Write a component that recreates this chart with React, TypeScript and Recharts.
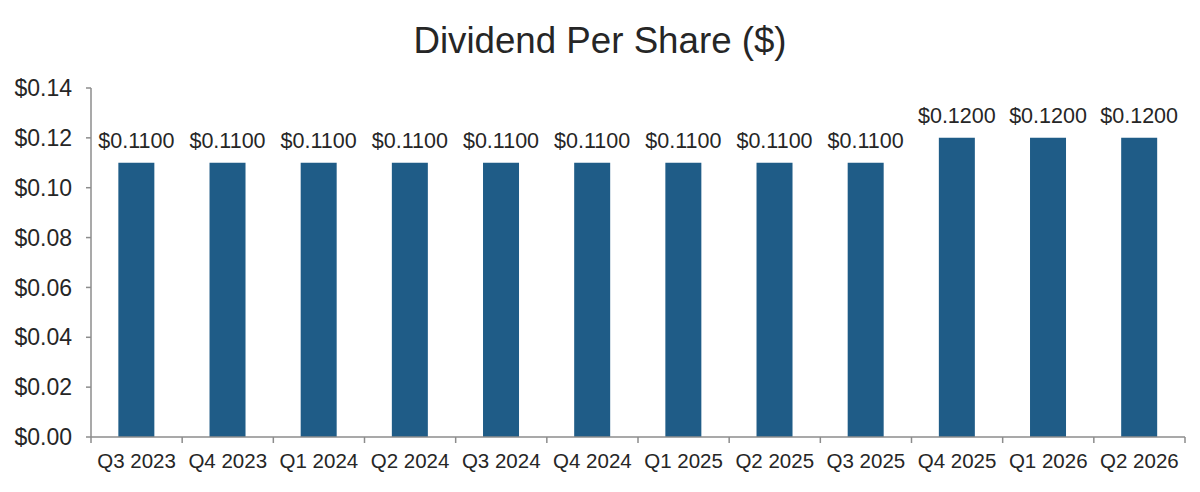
import { BarChart, Bar, XAxis, YAxis, LabelList } from "recharts";

const QUARTERS = [
  "Q3 2023", "Q4 2023", "Q1 2024", "Q2 2024", "Q3 2024", "Q4 2024",
  "Q1 2025", "Q2 2025", "Q3 2025", "Q4 2025", "Q1 2026", "Q2 2026",
];
const DIVIDENDS = [0.11, 0.11, 0.11, 0.11, 0.11, 0.11, 0.11, 0.11, 0.11, 0.12, 0.12, 0.12];
const Y_TICKS = [0, 0.02, 0.04, 0.06, 0.08, 0.1, 0.12, 0.14];

const FONT = "'Liberation Sans', Arial, sans-serif";
const TEXT = "#262626";
const AXIS = "#8c8c8c";
const BAR = "#1f5c87";

const data = QUARTERS.map((q, i) => ({ quarter: q, value: DIVIDENDS[i] }));

// quarter label in the middle of the band, tick marks on the band edges
function QuarterTick(props: any) {
  const { x, y, payload, index, visibleTicksCount } = props;
  const half = payload.offset ?? 0;
  const isLast = index === visibleTicksCount - 1;
  return (
    <g>
      <line x1={x - half} x2={x - half} y1={y} y2={y + 6} stroke={AXIS} strokeWidth={1.5} />
      {isLast && <line x1={x + half} x2={x + half} y1={y} y2={y + 6} stroke={AXIS} strokeWidth={1.5} />}
      <text x={x} y={y + 31} textAnchor="middle" fontSize={20.5} fill={TEXT} fontFamily={FONT}>
        {payload.value}
      </text>
    </g>
  );
}

export default function App() {
  return (
    <div style={{ position: "absolute", top: 0, left: 0, width: 1200, height: 492, background: "#fff" }}>
      <div
        style={{
          position: "absolute",
          top: 17,
          width: 1200,
          textAlign: "center",
          fontFamily: FONT,
          fontSize: 36.7,
          color: TEXT,
          lineHeight: "48px",
        }}
      >
        Dividend Per Share ($)
      </div>
      <BarChart
        width={1200}
        height={492}
        data={data}
        margin={{ top: 88, right: 15, bottom: 10, left: 0 }}
        barCategoryGap="30%"
      >
        <XAxis
          dataKey="quarter"
          axisLine={{ stroke: AXIS, strokeWidth: 1.5 }}
          tickLine={false}
          tickSize={0}
          tickMargin={0}
          interval={0}
          height={45}
          tick={<QuarterTick />}
        />
        <YAxis
          domain={[0, 0.14]}
          ticks={Y_TICKS}
          width={91}
          axisLine={{ stroke: AXIS, strokeWidth: 1.5 }}
          tickLine={{ stroke: AXIS, strokeWidth: 1.5 }}
          tickSize={5}
          tickMargin={14}
          tickFormatter={(v: number) => `$${v.toFixed(2)}`}
          tick={{ fontSize: 23, fill: TEXT, fontFamily: FONT }}
        />
        <Bar dataKey="value" fill={BAR} isAnimationActive={false}>
          <LabelList
            dataKey="value"
            position="top"
            offset={15}
            formatter={(v: any) => `$${Number(v).toFixed(4)}`}
            style={{ fontSize: 21.5, fill: TEXT, fontFamily: FONT }}
          />
        </Bar>
      </BarChart>
    </div>
  );
}
